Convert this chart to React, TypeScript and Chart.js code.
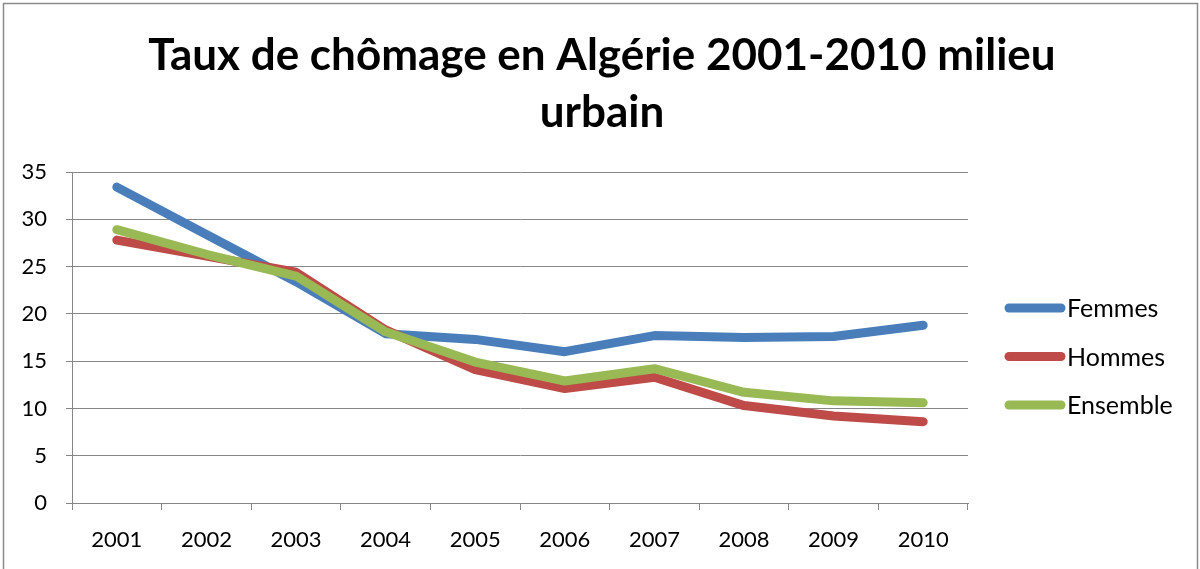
import React, { useEffect, useRef } from "react";
import { Chart, registerables } from "chart.js";

Chart.register(...registerables);

const titleLines = ["Taux de chômage en Algérie 2001-2010 milieu", "urbain"];
const categories = ["2001", "2002", "2003", "2004", "2005", "2006", "2007", "2008", "2009", "2010"];
const femmes = [33.4, 28.4, 23.4, 17.9, 17.3, 16.0, 17.7, 17.5, 17.6, 18.8];
const hommes = [27.8, 26.1, 24.4, 18.3, 14.1, 12.1, 13.3, 10.3, 9.2, 8.6];
const ensemble = [28.9, 26.3, 24.0, 18.1, 14.9, 12.9, 14.2, 11.7, 10.8, 10.6];
const seriesNames = ["Femmes", "Hommes", "Ensemble"];
const seriesColors = ["#4a7ebb", "#be4b48", "#98b954"];
const yMin = 0;
const yMax = 35;
const yStep = 5;

const FONT = "Lato, 'Open Sans', sans-serif";

const decorPlugin = {
  id: "decor",
  afterDraw(chart: any) {
    const ctx = chart.ctx;
    ctx.save();
    // outer frame
    ctx.strokeStyle = "#8a8a8a";
    ctx.lineWidth = 1.5;
    ctx.strokeRect(3.5, 3.5, 1194, 620);
    // title
    ctx.fillStyle = "#000";
    ctx.textAlign = "center";
    ctx.textBaseline = "alphabetic";
    ctx.font = `bold 44px ${FONT}`;
    ctx.fillText(titleLines[0], 602, 70);
    ctx.fillText(titleLines[1], 602, 127);
    // legend
    const ds = chart.data.datasets;
    ctx.font = `25px ${FONT}`;
    ctx.textAlign = "left";
    ctx.textBaseline = "middle";
    ds.forEach((d: any, i: number) => {
      const y = 308 + i * 48.5;
      ctx.strokeStyle = d.borderColor;
      ctx.lineWidth = 9;
      ctx.lineCap = "round";
      ctx.beginPath();
      ctx.moveTo(1009, y);
      ctx.lineTo(1061, y);
      ctx.stroke();
      ctx.fillStyle = "#000";
      ctx.fillText(d.label, 1067, y + 1);
    });
    ctx.restore();
  },
};

export default function App() {
  const ref = useRef<HTMLCanvasElement>(null);
  useEffect(() => {
    if (!ref.current) return;
    const seriesData = [femmes, hommes, ensemble];
    const chart = new Chart(ref.current, {
      type: "line",
      data: {
        labels: categories,
        datasets: seriesData.map((vals, i) => ({
          label: seriesNames[i],
          data: vals,
          borderColor: seriesColors[i],
          backgroundColor: seriesColors[i],
          borderWidth: 9,
          pointRadius: 0,
          tension: 0,
          borderCapStyle: "round" as const,
          borderJoinStyle: "round" as const,
          order: 2 - i,
        })),
      },
      options: {
        animation: false,
        responsive: false,
        devicePixelRatio: 1,
        layout: { padding: { top: 172, right: 232, bottom: 0, left: 0 } },
        plugins: {
          legend: { display: false },
          title: { display: false },
          tooltip: { enabled: false },
        },
        scales: {
          x: {
            type: "category",
            offset: true,
            grid: {
              offset: true,
              drawOnChartArea: false,
              drawTicks: true,
              tickLength: 7,
              color: "#868686",
              lineWidth: 1,
            },
            border: { display: true, color: "#868686", width: 1 },
            ticks: {
              color: "#000",
              font: { family: FONT, size: 22 },
              padding: 17,
              maxRotation: 0,
              autoSkip: false,
            },
            afterFit(scale: any) {
              scale.height = 66;
            },
          },
          y: {
            min: yMin,
            max: yMax,
            grid: {
              color: "#868686",
              lineWidth: 1,
              drawTicks: true,
              tickLength: 6,
            },
            border: { display: true, color: "#868686", width: 1 },
            ticks: {
              stepSize: yStep,
              color: "#000",
              font: { family: FONT, size: 22 },
              padding: 19,
            },
            afterFit(scale: any) {
              scale.width = 72;
            },
          },
        },
      },
      plugins: [decorPlugin],
    });
    return () => chart.destroy();
  }, []);
  return (
    <div style={{ position: "fixed", left: 0, top: 0, width: 1200, height: 569, background: "#fff" }}>
      <canvas ref={ref} width={1200} height={569} />
    </div>
  );
}
